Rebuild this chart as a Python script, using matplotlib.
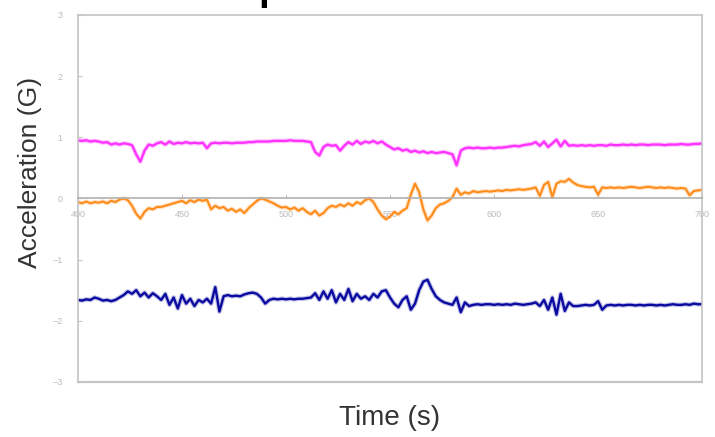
import matplotlib
matplotlib.use('Agg')
import matplotlib.pyplot as plt
import numpy as np

plt.rcParams['font.family'] = ['Liberation Sans', 'DejaVu Sans']

# time axis, one reading every 2 s
time_s = list(range(400, 701, 2))

magenta = [
    0.95, 0.94, 0.95, 0.93, 0.94, 0.93, 0.91, 0.92, 0.88, 0.90,
    0.88, 0.90, 0.89, 0.87, 0.72, 0.60, 0.78, 0.88, 0.86, 0.90,
    0.92, 0.88, 0.93, 0.89, 0.91, 0.90, 0.92, 0.90, 0.91, 0.90,
    0.91, 0.82, 0.90, 0.91, 0.90, 0.91, 0.91, 0.90, 0.91, 0.91,
    0.91, 0.92, 0.92, 0.93, 0.93, 0.93, 0.93, 0.94, 0.94, 0.94,
    0.94, 0.95, 0.94, 0.94, 0.94, 0.93, 0.92, 0.76, 0.70, 0.84,
    0.88, 0.86, 0.87, 0.78, 0.86, 0.92, 0.88, 0.94, 0.89, 0.93,
    0.91, 0.94, 0.90, 0.93, 0.88, 0.84, 0.80, 0.82, 0.78, 0.80,
    0.76, 0.78, 0.75, 0.77, 0.74, 0.76, 0.74, 0.75, 0.76, 0.74,
    0.72, 0.54, 0.78, 0.82, 0.83, 0.82, 0.83, 0.82, 0.82, 0.83,
    0.82, 0.83, 0.83, 0.84, 0.85, 0.86, 0.85, 0.87, 0.88, 0.89,
    0.92, 0.86, 0.93, 0.84, 0.90, 0.96, 0.85, 0.94, 0.86, 0.87,
    0.86, 0.87, 0.86, 0.87, 0.86, 0.87, 0.87, 0.86, 0.88, 0.87,
    0.87, 0.88, 0.87, 0.88, 0.87, 0.88, 0.88, 0.87, 0.88, 0.88,
    0.88, 0.87, 0.88, 0.88, 0.88, 0.89, 0.88, 0.88, 0.89, 0.89,
    0.90,
]

orange = [
    -0.06, -0.08, -0.05, -0.08, -0.06, -0.07, -0.05, -0.08, -0.04, -0.06,
    -0.02, 0.00, -0.03, -0.12, -0.25, -0.33, -0.22, -0.16, -0.18, -0.14,
    -0.14, -0.12, -0.10, -0.08, -0.06, -0.04, -0.08, -0.03, -0.06, -0.02,
    -0.04, -0.02, -0.18, -0.12, -0.16, -0.14, -0.20, -0.17, -0.22, -0.18,
    -0.24, -0.16, -0.10, -0.04, 0.00, -0.02, -0.05, -0.08, -0.12, -0.15,
    -0.14, -0.18, -0.15, -0.20, -0.16, -0.22, -0.26, -0.20, -0.28, -0.24,
    -0.16, -0.12, -0.14, -0.10, -0.13, -0.08, -0.12, -0.06, -0.09, -0.03,
    0.00, -0.06, -0.18, -0.28, -0.34, -0.30, -0.22, -0.26, -0.20, -0.16,
    0.06, 0.24, 0.10, -0.18, -0.36, -0.28, -0.16, -0.10, -0.08, -0.04,
    0.02, 0.16, 0.06, 0.10, 0.08, 0.12, 0.10, 0.11, 0.12, 0.11,
    0.12, 0.13, 0.12, 0.14, 0.13, 0.14, 0.15, 0.14, 0.15, 0.16,
    0.18, 0.04, 0.22, 0.27, 0.02, 0.24, 0.28, 0.27, 0.32, 0.26,
    0.22, 0.20, 0.19, 0.18, 0.19, 0.06, 0.18, 0.17, 0.18, 0.17,
    0.18, 0.17, 0.18, 0.19, 0.18, 0.17, 0.18, 0.19, 0.18, 0.17,
    0.18, 0.17, 0.18, 0.17, 0.16, 0.17, 0.16, 0.05, 0.12, 0.13,
    0.14,
]

blue = [
    -1.66, -1.67, -1.65, -1.66, -1.62, -1.64, -1.67, -1.66, -1.68, -1.66,
    -1.62, -1.58, -1.52, -1.56, -1.50, -1.60, -1.54, -1.62, -1.55, -1.60,
    -1.66, -1.56, -1.74, -1.62, -1.80, -1.58, -1.72, -1.64, -1.76, -1.66,
    -1.70, -1.64, -1.72, -1.45, -1.85, -1.60, -1.58, -1.60, -1.59, -1.60,
    -1.57, -1.55, -1.54, -1.56, -1.62, -1.72, -1.66, -1.64, -1.65, -1.64,
    -1.65, -1.64, -1.65, -1.64, -1.64, -1.63, -1.62, -1.55, -1.66, -1.52,
    -1.64, -1.50, -1.70, -1.56, -1.66, -1.48, -1.68, -1.56, -1.64, -1.60,
    -1.66, -1.56, -1.62, -1.52, -1.50, -1.62, -1.72, -1.78, -1.66, -1.60,
    -1.82, -1.72, -1.50, -1.36, -1.33, -1.48, -1.60, -1.66, -1.70, -1.72,
    -1.74, -1.62, -1.86, -1.70, -1.76, -1.74, -1.73, -1.74, -1.73, -1.73,
    -1.74, -1.73, -1.74, -1.73, -1.74, -1.72, -1.73, -1.74, -1.73, -1.72,
    -1.70, -1.76, -1.66, -1.82, -1.62, -1.90, -1.56, -1.84, -1.70, -1.76,
    -1.76, -1.75, -1.74, -1.75, -1.74, -1.68, -1.82, -1.75, -1.74, -1.75,
    -1.74, -1.75, -1.74, -1.74, -1.75, -1.74, -1.75, -1.74, -1.74, -1.75,
    -1.74, -1.75, -1.74, -1.73, -1.74, -1.74, -1.73, -1.74, -1.72, -1.73,
    -1.73,
]

x_ticks = [400, 450, 500, 550, 600, 650, 700]
y_ticks = [-3, -2, -1, 0, 1, 2, 3]

fig = plt.figure(figsize=(7.15, 4.37), dpi=100)
ax = fig.add_axes([0.109, 0.126, 0.873, 0.840])

# soft halo under each trace to mimic the blurry original
for y, c, w in [(magenta, '#ff33ff', 1.7), (orange, '#ff8c1a', 1.5), (blue, '#0a0aa0', 1.7)]:
    ax.plot(time_s, y, color=c, lw=w + 1.6, alpha=0.25, solid_joinstyle='round')
    ax.plot(time_s, y, color=c, lw=w, solid_joinstyle='round')

ax.set_xlim(400, 700)
ax.set_ylim(-3, 3)
ax.set_xticks(x_ticks)
ax.set_yticks(y_ticks)

grey = '#c4c4c4'
for s in ax.spines.values():
    s.set_color(grey)
    s.set_linewidth(1.2)
# x axis sits on the zero line, box still closed at the bottom
ax.spines['bottom'].set_position(('data', 0))
ax.spines['bottom'].set_color('#b0b0b0')
ax.axhline(-3, color=grey, lw=1.6, clip_on=False)

ax.tick_params(axis='x', direction='in', length=3, pad=8, labelsize=6.5,
               colors=grey, labelcolor='#bbbbbb')
ax.tick_params(axis='y', direction='in', length=3, pad=11, labelsize=6.5,
               colors=grey, labelcolor='#bbbbbb')

ax.set_xlabel('Time (s)', fontsize=20, color='#333333', va='center')
ax.xaxis.set_label_coords(0.5, -0.098)
ax.set_ylabel('Acceleration (G)', fontsize=19, color='#333333', va='center')
ax.yaxis.set_label_coords(-0.077, 0.57)

# title cut off at the top edge, only the descender shows
fig.text(0.362, 1.0, 'p', fontsize=28, fontweight='bold', va='baseline', ha='left')

plt.savefig('out.png', dpi=100)
